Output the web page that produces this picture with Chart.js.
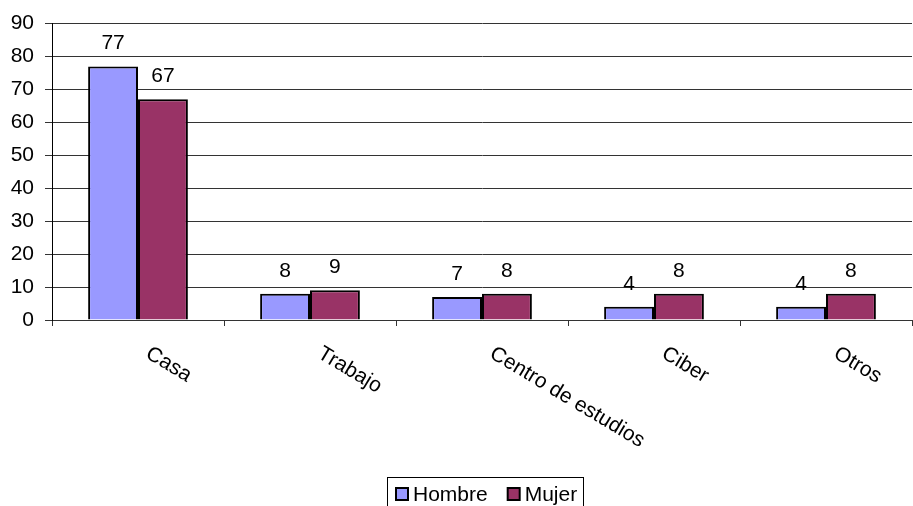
<!DOCTYPE html>
<html>
<head>
<meta charset="utf-8">
<script src="https://cdn.jsdelivr.net/npm/chart.js@4"></script>
<style>
  html, body { margin: 0; padding: 0; background: #fff; }
  #wrap { width: 913px; height: 506px; }
</style>
</head>
<body>
<div id="wrap"><canvas id="chart"></canvas></div>
<script>
// Data
const categories = ['Casa', 'Trabajo', 'Centro de estudios', 'Ciber', 'Otros'];
const hombre = [77, 8, 7, 4, 4];
const mujer = [67, 9, 8, 8, 8];
const yTicks = [0, 10, 20, 30, 40, 50, 60, 70, 80, 90];

const FAMILY = '"Liberation Sans", Arial, sans-serif';
const FONT = '21px ' + FAMILY;

// value labels above bars
const valueLabels = {
    id: 'valueLabels',
    afterDatasetsDraw(chart) {
        const ctx = chart.ctx;
        ctx.save();
        ctx.font = FONT;
        ctx.fillStyle = '#000';
        ctx.textAlign = 'center';
        ctx.textBaseline = 'alphabetic';
        chart.data.datasets.forEach((ds, i) => {
            chart.getDatasetMeta(i).data.forEach((bar, j) => {
                ctx.fillText(ds.data[j], bar.x, bar.y - 17);
            });
        });
        ctx.restore();
    }
};

// rotated category labels (text runs down to the right)
const slantLabels = {
    id: 'slantLabels',
    afterDraw(chart) {
        const ctx = chart.ctx;
        const xs = chart.scales.x;
        ctx.save();
        ctx.font = FONT;
        ctx.fillStyle = '#000';
        ctx.textAlign = 'left';
        ctx.textBaseline = 'top';
        chart.data.labels.forEach((lab, i) => {
            const x = xs.getPixelForValue(i);
            ctx.save();
            ctx.translate(x + 15, chart.chartArea.bottom + 23);
            ctx.rotate(0.54);
            ctx.fillText(lab, 0, 0);
            ctx.restore();
        });
        ctx.restore();
    }
};

// boxed legend at the bottom
const boxLegend = {
    id: 'boxLegend',
    afterDraw(chart) {
        const ctx = chart.ctx;
        ctx.save();
        ctx.strokeStyle = '#000';
        ctx.lineWidth = 1;
        ctx.strokeRect(387.5, 477.5, 196, 40);
        ctx.font = FONT;
        ctx.textBaseline = 'middle';
        ctx.textAlign = 'left';
        let x = 396;
        chart.data.datasets.forEach(ds => {
            ctx.fillStyle = ds.backgroundColor;
            ctx.fillRect(x, 488, 12, 12);
            ctx.lineWidth = 2;
            ctx.strokeRect(x, 488, 12, 12);
            ctx.fillStyle = '#000';
            ctx.fillText(ds.label, x + 17, 495);
            x += ctx.measureText(ds.label).width + 37;
        });
        ctx.restore();
    }
};

new Chart(document.getElementById('chart'), {
    type: 'bar',
    data: {
        labels: categories,
        datasets: [{
            label: 'Hombre',
            data: hombre,
            backgroundColor: '#9999FF',
            borderColor: '#000',
            borderWidth: 2,
            borderSkipped: 'bottom'
        }, {
            label: 'Mujer',
            data: mujer,
            backgroundColor: '#993366',
            borderColor: '#000',
            borderWidth: 2,
            borderSkipped: 'bottom'
        }]
    },
    options: {
        responsive: true,
        maintainAspectRatio: false,
        animation: false,
        datasets: { bar: { categoryPercentage: 0.58, barPercentage: 1 } },
        layout: { padding: { top: 21, right: 1, left: 0, bottom: 0 } },
        plugins: {
            legend: { display: false },
            tooltip: { enabled: false }
        },
        scales: {
            x: {
                grid: { display: true, drawOnChartArea: false, offset: true, tickLength: 6, color: '#333' },
                border: { color: '#333', width: 1 },
                ticks: { display: false },
                afterFit(s) { s.height = 186; }
            },
            y: {
                min: 0,
                max: 90,
                afterBuildTicks(s) { s.ticks = yTicks.map(v => ({ value: v })); },
                grid: { color: '#333', tickLength: 7 },
                border: { color: '#000', width: 1 },
                ticks: { font: { family: FAMILY, size: 21 }, color: '#000', padding: 11 },
                afterFit(s) { s.width = 52; }
            }
        }
    },
    plugins: [valueLabels, slantLabels, boxLegend]
});
</script>
</body>
</html>
